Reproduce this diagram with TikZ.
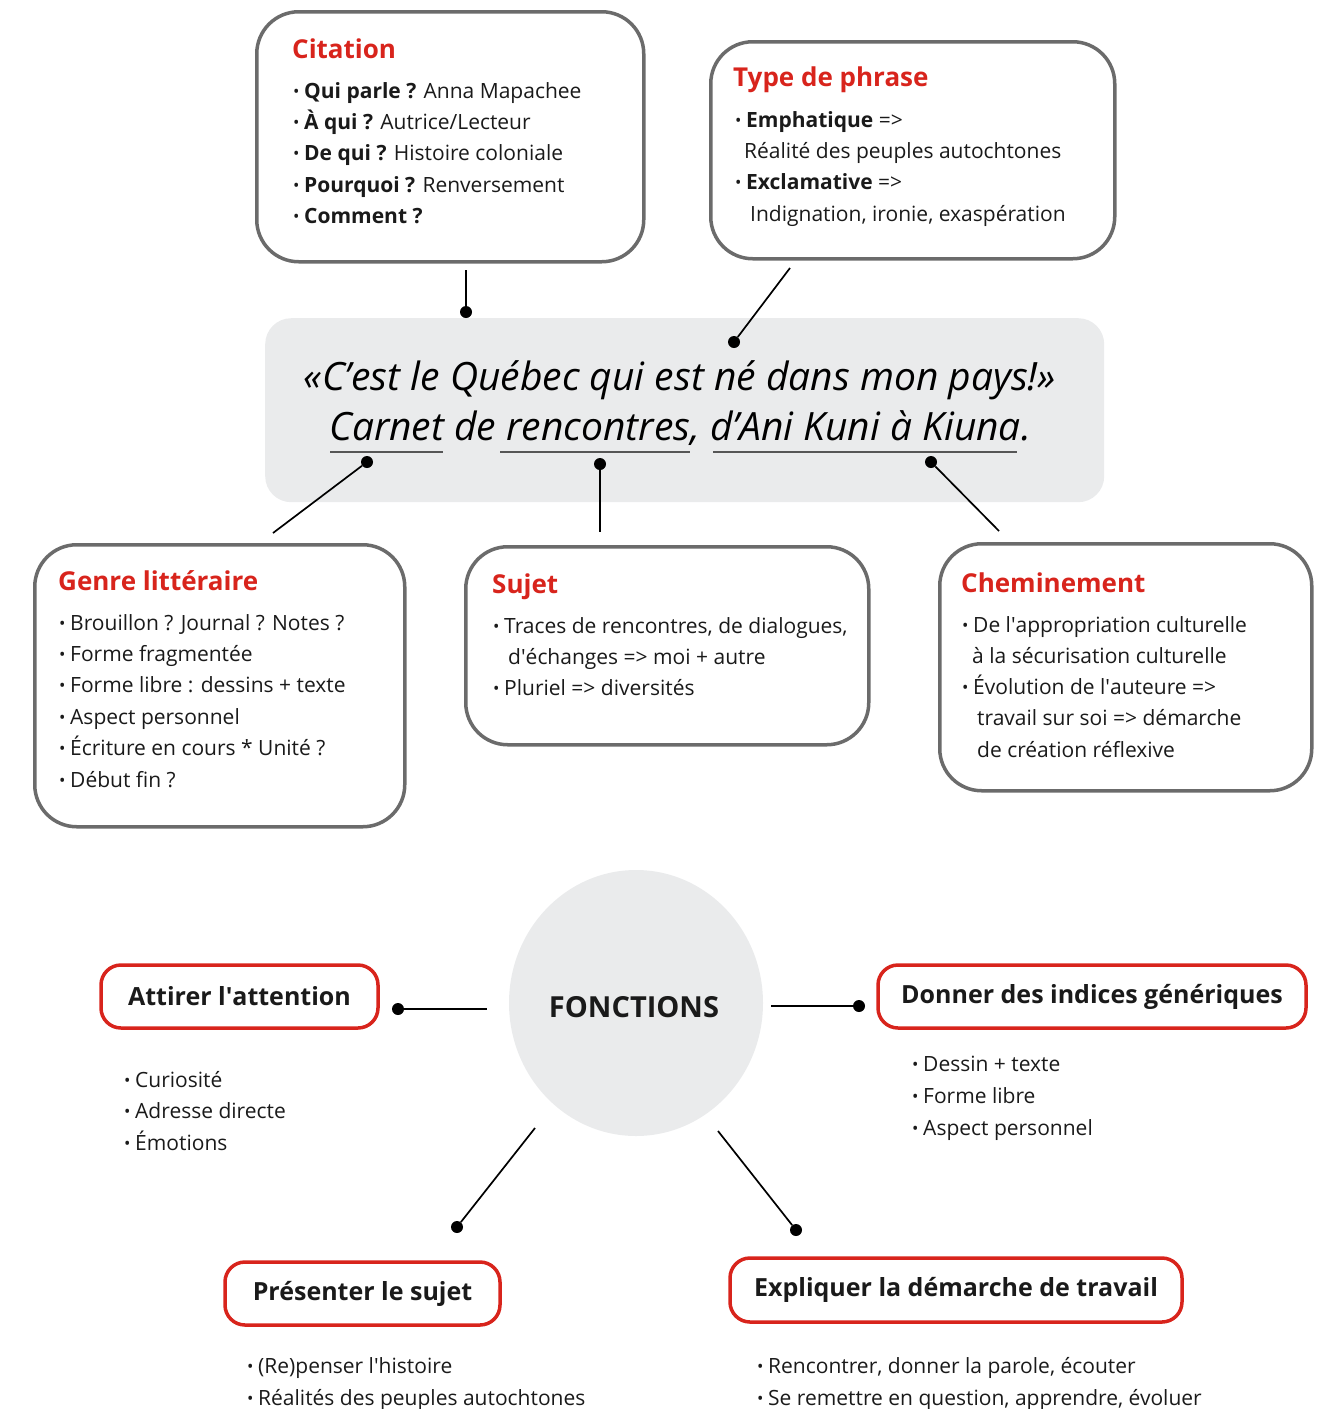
\documentclass[tikz,border=0pt]{standalone}
\usepackage{fontspec}
\setmainfont{Open Sans}
\usetikzlibrary{shapes.geometric}
\definecolor{boxgray}{HTML}{6B6B6B}
\definecolor{boxred}{HTML}{D8241C}
\definecolor{titlered}{HTML}{D8241C}
\definecolor{centergray}{HTML}{EAEBEC}
\definecolor{ink}{HTML}{1A1A1A}
\newcommand\bul{\makebox[11pt][l]{\raisebox{0.8pt}{\fontsize{17}{17}\selectfont •}}}
\newcommand\ap{\textquotesingle}
\tikzset{
  graybox/.style={draw=boxgray, line width=3.5pt, rounded corners=42pt, fill=white, anchor=north west, inner sep=0},
  redbox/.style={draw=boxred, line width=3.5pt, rounded corners=20pt, fill=white, inner sep=0, font=\bfseries\fontsize{25}{25}\selectfont, text=ink},
  ttl/.style={font=\bfseries\fontsize{26}{26}\selectfont, text=titlered, anchor=base west, inner sep=0},
  body/.style={font=\fontsize{21}{21}\selectfont, text=ink, anchor=base west, inner sep=0},
  quote/.style={font=\itshape\fontsize{39}{39}\selectfont, text=black, anchor=base, inner sep=0},
  conn/.style={line width=1.7pt, draw=black},
  pin/.style={circle, fill=black, inner sep=0, minimum size=12pt},
  uline/.style={line width=2.2pt, draw=boxgray!80!black},
}
\begin{document}
\begin{tikzpicture}[x=1pt,y=-1pt]
\useasboundingbox (0,0) rectangle (1324,1409);

% ---------- top boxes ----------
\node[graybox, minimum width=387pt, minimum height=250pt] (citbox) at (255,10) {};
\node[ttl] (cittl) at (292,58) {Citation};
\node[body] (cit1) at (293,98) {\bul\textbf{Qui parle ?} Anna Mapachee};
\node[body] (cit2) at (293,129) {\bul\textbf{À qui ?} Autrice/Lecteur};
\node[body] (cit3) at (293,160) {\bul\textbf{De qui ?} Histoire coloniale};
\node[body] (cit4) at (293,192) {\bul\textbf{Pourquoi ?} Renversement};
\node[body] (cit5) at (293,223) {\bul\textbf{Comment ?}};

\node[graybox, minimum width=404pt, minimum height=217pt] (typbox) at (709,40) {};
\node[ttl] (typtl) at (733,86) {Type de phrase};
\node[body] (typ1) at (735,127) {\bul\textbf{Emphatique} =>};
\node[body] (typ2) at (744,158) {Réalité des peuples autochtones};
\node[body] (typ3) at (735,189) {\bul\textbf{Exclamative} =>};
\node[body] (typ4) at (750,221) {Indignation, ironie, exaspération};

% ---------- central quote ----------
\node[fill=centergray, rounded corners=26pt, minimum width=839pt, minimum height=184pt, anchor=north west, inner sep=0] (quotebox) at (265,318) {};
\node[quote] (q1) at (680,390) {«C’est le Québec qui est né dans mon pays!»};
\node[quote] (q2) at (680,440) {Carnet de rencontres, d’Ani Kuni à Kiuna.};
\coordinate (u1a) at (330,452); \coordinate (u1b) at (443,452);
\coordinate (u2a) at (500,452); \coordinate (u2b) at (690,452);
\coordinate (u3a) at (713,452); \coordinate (u3b) at (1017,452);
\draw[uline] (u1a) -- (u1b);
\draw[uline] (u2a) -- (u2b);
\draw[uline] (u3a) -- (u3b);

% ---------- middle boxes ----------
\node[graybox, minimum width=370pt, minimum height=282pt] (genbox) at (33,543) {};
\node[ttl] (gentl) at (58,590) {Genre littéraire};
\node[body] (gen1) at (59,630) {\bul Brouillon ? Journal ? Notes ?};
\node[body] (gen2) at (59,661) {\bul Forme fragmentée};
\node[body] (gen3) at (59,692) {\bul Forme libre : dessins + texte};
\node[body] (gen4) at (59,724) {\bul Aspect personnel};
\node[body] (gen5) at (59,755) {\bul Écriture en cours * Unité ?};
\node[body] (gen6) at (59,787) {\bul Début fin ?};

\node[graybox, minimum width=403pt, minimum height=198pt] (sujbox) at (464,545) {};
\node[ttl] (sujtl) at (492,593) {Sujet};
\node[body] (suj1) at (493,633) {\bul Traces de rencontres, de dialogues,};
\node[body] (suj2) at (508,664) {d\ap échanges => moi + autre};
\node[body] (suj3) at (493,695) {\bul Pluriel => diversités};

\node[graybox, minimum width=372pt, minimum height=247pt] (chebox) at (938,542) {};
\node[ttl] (chetl) at (961,592) {Cheminement};
\node[body] (che1) at (962,632) {\bul De l\ap appropriation culturelle};
\node[body] (che2) at (972,663) {à la sécurisation culturelle};
\node[body] (che3) at (962,694) {\bul Évolution de l\ap auteure =>};
\node[body] (che4) at (977,725) {travail sur soi => démarche};
\node[body] (che5) at (977,757) {de création réflexive};

% ---------- top connectors ----------
\node[pin] (p1) at (466,312) {};
\coordinate (c1) at (466,270);
\draw[conn] (c1) -- (p1);
\node[pin] (p2) at (734,342) {};
\coordinate (c2) at (790,268);
\draw[conn] (c2) -- (p2);
\node[pin] (p3) at (367,462) {};
\coordinate (c3) at (273,533);
\draw[conn] (p3) -- (c3);
\node[pin] (p4) at (600,464) {};
\coordinate (c4) at (600,532);
\draw[conn] (p4) -- (c4);
\node[pin] (p5) at (931,462) {};
\coordinate (c5) at (999,531);
\draw[conn] (p5) -- (c5);

% ---------- fonctions ----------
\node[ellipse, fill=centergray, minimum width=254pt, minimum height=266pt, inner sep=0] (fonc) at (636,1003) {};
\node[font=\bfseries\fontsize{29}{29}\selectfont, text=ink, inner sep=0] (fonctxt) at (634,1007) {FONCTIONS};

\node[redbox, minimum width=277pt, minimum height=63pt] (att) at (239.5,996.5) {Attirer l\ap attention};
\node[redbox, minimum width=428pt, minimum height=63pt] (don) at (1092,996.5) {Donner des indices génériques};
\node[redbox, minimum width=275pt, minimum height=63pt] (pre) at (362.5,1293.5) {Présenter le sujet};
\node[redbox, minimum width=452pt, minimum height=64pt] (exp) at (956,1290) {Expliquer la démarche de travail};

\node[pin] (f1) at (398,1009) {};
\coordinate (e1) at (487,1009);
\draw[conn] (f1) -- (e1);
\node[pin] (f2) at (859,1006) {};
\coordinate (e2) at (771,1006);
\draw[conn] (e2) -- (f2);
\node[pin] (f3) at (457,1227) {};
\coordinate (e3) at (535,1128);
\draw[conn] (e3) -- (f3);
\node[pin] (f4) at (796,1230) {};
\coordinate (e4) at (718,1131);
\draw[conn] (e4) -- (f4);

\node[body] (att1) at (124,1087) {\bul Curiosité};
\node[body] (att2) at (124,1118) {\bul Adresse directe};
\node[body] (att3) at (124,1150) {\bul Émotions};

\node[body] (don1) at (912,1071) {\bul Dessin + texte};
\node[body] (don2) at (912,1103) {\bul Forme libre};
\node[body] (don3) at (912,1135) {\bul Aspect personnel};

\node[body] (pre1) at (247,1373) {\bul (Re)penser l\ap histoire};
\node[body] (pre2) at (247,1405) {\bul Réalités des peuples autochtones};

\node[body] (exp1) at (757,1373) {\bul Rencontrer, donner la parole, écouter};
\node[body] (exp2) at (757,1405) {\bul Se remettre en question, apprendre, évoluer};
\end{tikzpicture}
\end{document}
